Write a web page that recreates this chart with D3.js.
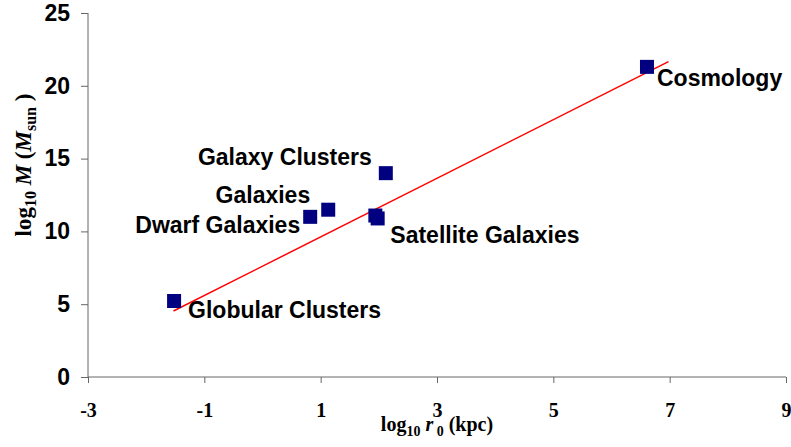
<!DOCTYPE html>
<html>
<head>
<meta charset="utf-8">
<script src="https://cdn.jsdelivr.net/npm/d3@7"></script>
<style>
  html, body { margin: 0; padding: 0; background: #fff; }
  svg { display: block; }
</style>
</head>
<body>
<svg id="chart" width="791" height="447"></svg>
<script>
// ---- data ----
const pointNames = ["Globular Clusters", "Dwarf Galaxies", "Galaxies", "Satellite Galaxies", "Satellite Galaxies", "Galaxy Clusters", "Cosmology"];
const logR = [-1.52, 0.82, 1.13, 1.94, 1.98, 2.12, 6.61];
const logM = [5.22, 11.0, 11.49, 11.09, 10.89, 14.0, 21.3];
const showLabel = [true, true, true, true, false, true, true];
const fitX = [-1.53, 6.98];
const fitY = [4.53, 21.66];
const xTicks = [-3, -1, 1, 3, 5, 7, 9];
const yTicks = [0, 5, 10, 15, 20, 25];

// ---- layout (pixel offsets for labels) ----
const labelLayout = {
  "Globular Clusters": { anchor: "start", dx: 14, dy: 17 },
  "Dwarf Galaxies": { anchor: "end", dx: -10, dy: 16 },
  "Galaxies": { anchor: "end", dx: -18, dy: -7 },
  "Satellite Galaxies": { anchor: "start", dx: 15, dy: 27 },
  "Galaxy Clusters": { anchor: "end", dx: -14, dy: -8 },
  "Cosmology": { anchor: "start", dx: 10, dy: 19 }
};

const svg = d3.select("#chart");
const x = d3.scaleLinear().domain([-3, 9]).range([88, 786]);
const y = d3.scaleLinear().domain([0, 25]).range([377, 13]);

const axisColor = "#666";
const hyphenFmt = d => String(d); // plain hyphen-minus like the original

// y axis
const yAxis = svg.append("g").attr("transform", `translate(${x(-3)},0)`)
  .call(d3.axisLeft(y).tickValues(yTicks).tickSize(7).tickPadding(11).tickFormat(hyphenFmt));
yAxis.select(".domain").attr("stroke", axisColor).attr("d", `M0,${y(25)}V${y(0)}`);
yAxis.selectAll(".tick line").attr("stroke", axisColor);
yAxis.selectAll(".tick text")
  .attr("font-family", "'Liberation Sans', Arial, sans-serif")
  .attr("font-weight", "bold").attr("font-size", 23).attr("fill", "#000");

// x axis at y=0
const xAxis = svg.append("g").attr("transform", `translate(0,${y(0)})`)
  .call(d3.axisBottom(x).tickValues(xTicks).tickSize(6).tickPadding(20).tickFormat(hyphenFmt));
xAxis.select(".domain").attr("stroke", axisColor).attr("d", `M${x(-3)},0H${x(9)}`);
xAxis.selectAll(".tick line").attr("stroke", axisColor);
xAxis.selectAll(".tick text")
  .attr("font-family", "'Liberation Serif', 'Times New Roman', serif")
  .attr("font-weight", "bold").attr("font-size", 20).attr("fill", "#000");

// fit line
const fitData = fitX.map((v, i) => [v, fitY[i]]);
svg.append("path")
  .datum(fitData)
  .attr("fill", "none").attr("stroke", "#ff0000").attr("stroke-width", 1.5)
  .attr("d", d3.line().x(d => x(d[0])).y(d => y(d[1])));

// points
const pts = logR.map((v, i) => ({ name: pointNames[i], r: v, m: logM[i], show: showLabel[i] }));
const size = 14;
svg.append("g").selectAll("rect").data(pts).join("rect")
  .attr("x", d => x(d.r) - size / 2)
  .attr("y", d => y(d.m) - size / 2)
  .attr("width", size).attr("height", size)
  .attr("fill", "#000080");

// labels
svg.append("g").selectAll("text").data(pts.filter(d => d.show)).join("text")
  .attr("x", d => x(d.r) + labelLayout[d.name].dx)
  .attr("y", d => y(d.m) + labelLayout[d.name].dy)
  .attr("text-anchor", d => labelLayout[d.name].anchor)
  .attr("font-family", "'Liberation Sans', Arial, sans-serif")
  .attr("font-weight", "bold").attr("font-size", 23).attr("fill", "#000")
  .text(d => d.name);

// x axis title
const xt = svg.append("text")
  .attr("x", 437).attr("y", 431)
  .attr("text-anchor", "middle")
  .attr("font-family", "'Liberation Serif', 'Times New Roman', serif")
  .attr("font-weight", "bold").attr("font-size", 20).attr("fill", "#000");
xt.append("tspan").text("log");
xt.append("tspan").attr("font-size", 14).attr("dy", 5).text("10");
xt.append("tspan").attr("dy", -5).text(" ");
xt.append("tspan").attr("font-style", "italic").text("r");
xt.append("tspan").attr("font-size", 14).attr("dy", 5).text(" 0");
xt.append("tspan").attr("dy", -5).text(" (kpc)");

// y axis title
const yt = svg.append("text")
  .attr("transform", "translate(31,165) rotate(-90)")
  .attr("text-anchor", "middle")
  .attr("font-family", "'Liberation Serif', 'Times New Roman', serif")
  .attr("font-weight", "bold").attr("font-size", 23).attr("fill", "#000");
yt.append("tspan").text("log");
yt.append("tspan").attr("font-size", 16).attr("dy", 5).text("10");
yt.append("tspan").attr("dy", -5).text(" ");
yt.append("tspan").attr("font-style", "italic").text("M");
yt.append("tspan").text(" (");
yt.append("tspan").attr("font-style", "italic").text("M");
yt.append("tspan").attr("font-size", 16).attr("dy", 5).text("sun");
yt.append("tspan").attr("dy", -5).text(" )");
</script>
</body>
</html>
